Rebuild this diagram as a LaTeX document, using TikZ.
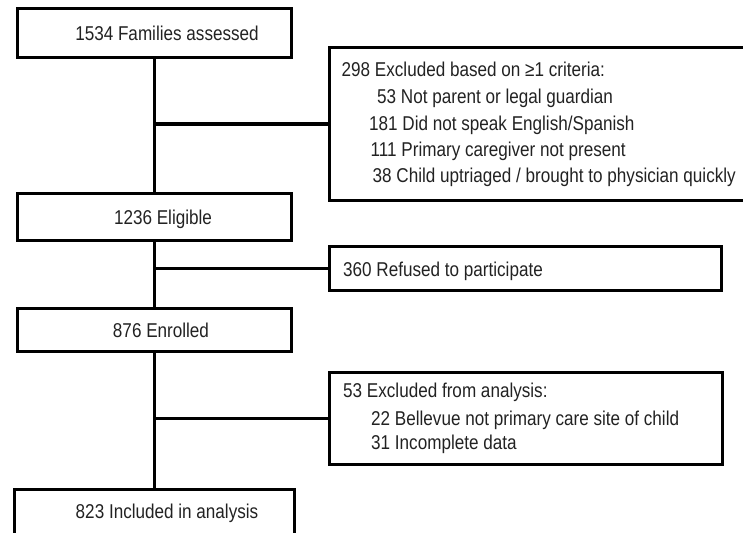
\documentclass[tikz,border=0pt]{standalone}
\usepackage{fontspec}
\setmainfont{Liberation Sans}[FakeStretch=0.855]
\definecolor{txt}{HTML}{222222}
\begin{document}
\begin{tikzpicture}[x=1pt,y=-1pt,
  box/.style={draw=black, line width=3.5pt, inner sep=0pt,
    font=\fontsize{20pt}{24pt}\selectfont, text=txt,
    text height=14.3pt, text depth=0pt},
  txtline/.style={anchor=base west, inner sep=0pt,
    font=\fontsize{20pt}{24pt}\selectfont, text=txt},
  link/.style={draw=black, line width=3.5pt}]
\useasboundingbox (0,0) rectangle (743,532);

% main column
\node[box, minimum width=274pt, minimum height=49pt] (fam) at (154.5,33) {\hspace*{25pt}1534 Families assessed};
\node[box, minimum width=274pt, minimum height=47pt] (elig) at (154.5,217) {\hspace*{17pt}1236 Eligible};
\node[box, minimum width=274pt, minimum height=43pt] (enr) at (154.5,330) {\hspace*{13pt}876 Enrolled};
\node[box, minimum width=280pt, minimum height=47pt, text depth=4pt] (incl) at (154.5,513) {\hspace*{25pt}823 Included in analysis};

% side boxes
\node[box, minimum width=416.5pt, minimum height=153pt] (exc) at (537.75,124) {};
\node[box, minimum width=392pt, minimum height=44pt] (ref) at (525.5,268.5) {};
\node[box, minimum width=393pt, minimum height=92pt] (exa) at (526,418.5) {};

% side box texts
\node[txtline] (exc1) at (341.5,76.7) {298 Excluded based on ≥1 criteria:};
\node[txtline] (exc2) at (377,103.3) {53 Not parent or legal guardian};
\node[txtline] (exc3) at (369,130) {181 Did not speak English/Spanish};
\node[txtline] (exc4) at (370.5,156.5) {111 Primary caregiver not present};
\node[txtline] (exc5) at (372.5,182.5) {38 Child uptriaged / brought to physician quickly};

\node[txtline] (ref1) at (343,276.5) {360 Refused to participate};

\node[txtline] (exa1) at (343,397.5) {53 Excluded from analysis:};
\node[txtline] (exa2) at (371,425) {22 Bellevue not primary care site of child};
\node[txtline] (exa3) at (371,449.5) {31 Incomplete data};

% connectors
\draw[link] (fam.south) -- (elig.north);
\draw[link] (fam.south |- exc.west) -- (exc.west);
\draw[link] (elig.south) -- (enr.north);
\draw[link] (elig.south |- ref.west) -- (ref.west);
\draw[link] (enr.south) -- (incl.north);
\draw[link] (enr.south |- exa.west) -- (exa.west);
\end{tikzpicture}
\end{document}
